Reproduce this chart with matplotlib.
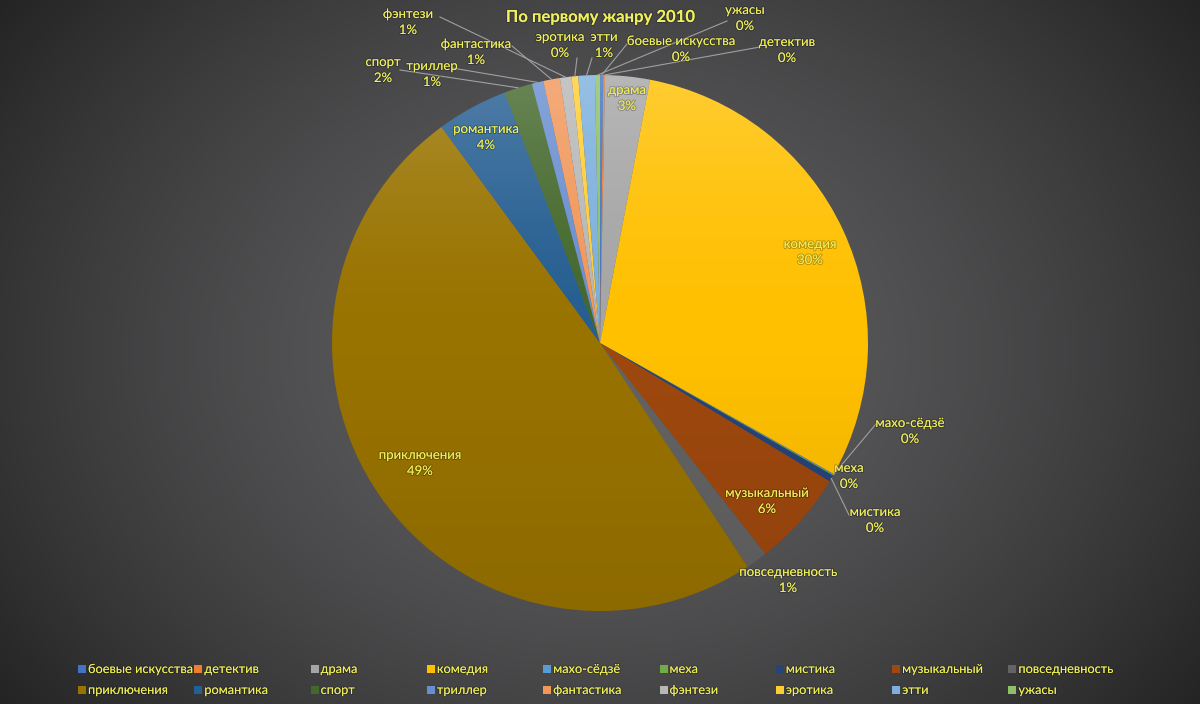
import numpy as np
import matplotlib.pyplot as plt
import matplotlib.patheffects as pe
from matplotlib.patches import Rectangle, Circle

genres = ["боевые искусства", "детектив", "драма", "комедия", "махо-сёдзё",
          "меха", "мистика", "музыкальный", "повседневность", "приключения",
          "романтика", "спорт", "триллер", "фантастика", "фэнтези",
          "эротика", "этти", "ужасы"]
shares = [0.2, 0.1, 2.7, 30.2, 0.05, 0.05, 0.4, 5.8, 1.3, 49.3,
          4.3, 1.7, 0.7, 1.0, 0.7, 0.4, 1.0, 0.3]
colors = ["#4472C4", "#ED7D31", "#A5A5A5", "#FFC000", "#5B9BD5", "#70AD47",
          "#264478", "#9E480E", "#636363", "#997300", "#255E91", "#43682B",
          "#698ED0", "#F1975A", "#B7B7B7", "#FFCD33", "#7CAFDD", "#8CC168"]
title = "По первому жанру 2010"

W, H = 1200, 704
CX, CY, R = 600, 343, 268
TXT = "#F0F05A"


def px(x, y):
    # pixel coords (top-down) -> axes data coords
    return x, H - y


# label placement: (text centre, leader start or None)
label_pos = {
    "драма": ((627, 98), None),
    "комедия": ((810, 252), None),
    "музыкальный": ((767, 501), None),
    "приключения": ((420, 463), None),
    "романтика": ((486, 137), None),
    "повседневность": ((788, 580), None),
    "махо-сёдзё": ((910, 431), (876, 424)),
    "меха": ((849, 476), None),
    "мистика": ((875, 520), (849, 515)),
    "спорт": ((383, 70), (400, 70)),
    "триллер": ((432, 74), (452, 68)),
    "фантастика": ((476, 52), (512, 46)),
    "фэнтези": ((408, 22), (440, 17)),
    "эротика": ((560, 45), (577, 58)),
    "этти": ((604, 45), (592, 58)),
    "боевые искусства": ((681, 49), (627, 44)),
    "ужасы": ((745, 18), (727, 21)),
    "детектив": ((787, 50), (760, 47)),
}

plt.rcParams["font.family"] = ["Lato", "DejaVu Sans"]

fig = plt.figure(figsize=(12, 7.04), dpi=100)
ax = fig.add_axes([0, 0, 1, 1])

# radial background
yy, xx = np.mgrid[0:H, 0:W]
d = np.sqrt(((xx - 600) / 700) ** 2 + ((yy - 352) / 560) ** 2)
v = np.clip(96 - 55 * d ** 1.5, 36, 96) / 255
bg = np.dstack([v, v, v * 1.02])
ax.imshow(np.clip(bg, 0, 1), extent=(0, W, 0, H), origin="upper",
          aspect="auto", zorder=0)

wedges, _ = ax.pie(shares, colors=colors, startangle=90, counterclock=False,
                   center=px(CX, CY), radius=R, frame=True,
                   wedgeprops=dict(linewidth=0))
for w in wedges:
    w.set_zorder(2)

# soft light from the top of the pie
t = np.linspace(0, 1, 200)
grad = np.zeros((200, 2, 4))
top = t < 0.5
grad[top, :, :3] = 1.0
grad[..., 3] = np.where(top, 0.2 * np.clip(1 - 2 * t, 0, 1) ** 1.5,
                        0.08 * np.clip(2 * t - 1, 0, 1))[:, None]
ov = ax.imshow(grad, extent=(CX - R, CX + R, H - CY - R, H - CY + R),
               origin="upper", aspect="auto", zorder=3)
ov.set_clip_path(Circle(px(CX, CY), R, transform=ax.transData))

total = sum(shares)
stroke = [pe.withStroke(linewidth=1.4, foreground=(0, 0, 0, 0.25))]
for g, s, w in zip(genres, shares, wedges):
    (tx, ty), lead = label_pos[g]
    pct = f"{round(100 * s / total):.0f}%"
    ax.text(*px(tx, ty), f"{g}\n{pct}", ha="center", va="center",
            fontsize=9.5, color=TXT, linespacing=1.4, zorder=5,
            path_effects=stroke)
    if lead is not None:
        a = np.deg2rad((w.theta1 + w.theta2) / 2)
        rx = CX + R * np.cos(a)
        ry = CY - R * np.sin(a)
        ax.plot([lead[0], rx], [H - lead[1], H - ry], color="#a0a0a0",
                lw=0.8, zorder=4)

ax.text(*px(600, 17), title, ha="center", va="center", fontsize=12,
        fontweight="bold", color=TXT, zorder=5, path_effects=stroke)

# legend, 2 rows x 9 columns
col_x = [82 + 116.3 * i for i in range(9)]
row_y = [669, 690]
for i, (g, c) in enumerate(zip(genres, colors)):
    x0 = col_x[i % 9]
    y0 = row_y[i // 9]
    ax.add_patch(Rectangle((x0 - 4, H - y0 - 4), 8, 8, facecolor=c,
                           edgecolor="none", zorder=5))
    ax.text(x0 + 6, H - y0, g, ha="left", va="center", fontsize=9.2,
            color=TXT, zorder=5, path_effects=stroke)

ax.set_xlim(0, W)
ax.set_ylim(0, H)
ax.axis("off")
fig.savefig("out.png", dpi=100)
